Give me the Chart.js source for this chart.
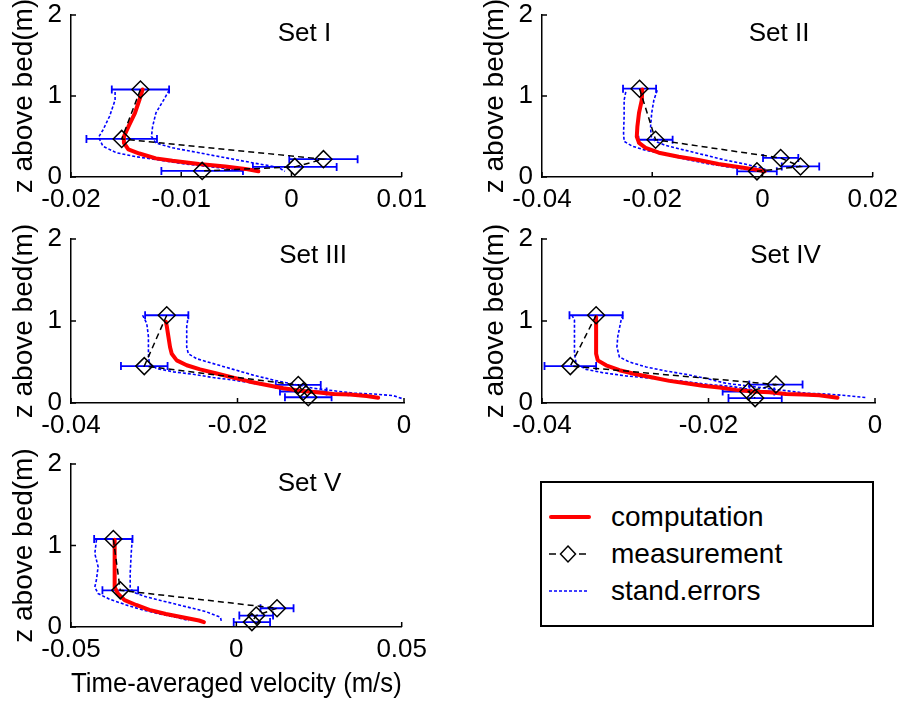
<!DOCTYPE html>
<html>
<head>
<meta charset="utf-8">
<script src="https://cdn.jsdelivr.net/npm/chart.js@4.4.0/dist/chart.umd.min.js"></script>
<style>
  body { margin: 0; background: #fff; width: 906px; height: 704px; position: relative; overflow: hidden;
         font-family: "Liberation Sans", Arial, sans-serif; }
  canvas { position: absolute; }
  #legend { position: absolute; left: 540px; top: 481px; width: 334px; height: 146px;
            border: 2px solid #000; box-sizing: border-box; background: #fff; }
  .row { position: absolute; left: 0; height: 30px; width: 100%; font-size: 28px; line-height: 30px; color: #000; }
  .row svg { position: absolute; left: 5px; top: 0; }
  .row span { position: absolute; left: 69px; top: 0; }
</style>
</head>
<body>
<canvas id="c1"></canvas>
<canvas id="c2"></canvas>
<canvas id="c3"></canvas>
<canvas id="c4"></canvas>
<canvas id="c5"></canvas>

<div id="legend">
  <div class="row" style="top:19px">
    <svg width="46" height="30"><line x1="4" y1="15" x2="42" y2="15" stroke="#ff0000" stroke-width="4" stroke-linecap="round"/></svg>
    <span>computation</span>
  </div>
  <div class="row" style="top:56px">
    <svg width="46" height="30">
      <line x1="2" y1="15" x2="9" y2="15" stroke="#000" stroke-width="1.5"/>
      <line x1="32" y1="15" x2="39" y2="15" stroke="#000" stroke-width="1.5"/>
      <path d="M21 7 L28.5 15 L21 23 L13.5 15 Z" fill="none" stroke="#000" stroke-width="1.5"/>
    </svg>
    <span>measurement</span>
  </div>
  <div class="row" style="top:93px">
    <svg width="46" height="30"><line x1="2" y1="15" x2="42" y2="15" stroke="#0000ff" stroke-width="1.6" stroke-dasharray="3,2"/></svg>
    <span>stand.errors</span>
  </div>
</div>

<script>
const zTicks = [0, 1, 2];
const setNames = ['Set I', 'Set II', 'Set III', 'Set IV', 'Set V'];

// Set I
const xTicks1 = [-0.02, -0.01, 0, 0.01];
const compV1 = [-0.0135, -0.0138, -0.0142, -0.0148, -0.0152, -0.0152, -0.0148, -0.0138, -0.0123, -0.0108, -0.0084, -0.0060, -0.0042, -0.0030];
const compZ1 = [1.08, 0.95, 0.79, 0.62, 0.50, 0.42, 0.34, 0.29, 0.23, 0.20, 0.16, 0.13, 0.10, 0.07];
const lowV1 = [-0.0160, -0.0160, -0.0165, -0.0171, -0.0175, -0.0171, -0.0159, -0.0141, -0.0120, -0.0096, -0.0069, -0.0045];
const lowZ1 = [1.05, 0.95, 0.75, 0.58, 0.49, 0.38, 0.30, 0.25, 0.21, 0.16, 0.12, 0.08];
const upV1 = [-0.0111, -0.0116, -0.0123, -0.0126, -0.0127, -0.0123, -0.0108, -0.0084, -0.0057, -0.0033, -0.0012, -0.0006];
const upZ1 = [1.07, 0.95, 0.79, 0.62, 0.50, 0.42, 0.36, 0.30, 0.23, 0.17, 0.12, 0.07];
const measV1 = [-0.0137, -0.0154, 0.0029, 0.0003, -0.0081];
const measZ1 = [1.08, 0.47, 0.22, 0.125, 0.075];
const measE1 = [0.0026, 0.0032, 0.0031, 0.0038, 0.0037];

// Set II
const xTicks2 = [-0.04, -0.02, 0, 0.02];
const compV2 = [-0.0218, -0.0219, -0.0224, -0.0227, -0.0228, -0.0224, -0.0212, -0.0188, -0.0152, -0.0116, -0.0080, -0.0050, -0.0020, 0.0004];
const compZ2 = [1.08, 0.95, 0.79, 0.62, 0.50, 0.42, 0.36, 0.30, 0.25, 0.21, 0.16, 0.13, 0.10, 0.07];
const lowV2 = [-0.0248, -0.0251, -0.0251, -0.0252, -0.0251, -0.0236, -0.0212, -0.0176, -0.0140, -0.0104, -0.0068, -0.0038];
const lowZ2 = [1.05, 0.95, 0.75, 0.54, 0.44, 0.38, 0.33, 0.28, 0.22, 0.17, 0.13, 0.10];
const upV2 = [-0.0191, -0.0197, -0.0201, -0.0203, -0.0202, -0.0194, -0.0176, -0.0140, -0.0104, -0.0068, -0.0032, -0.0002, 0.0010];
const upZ2 = [1.07, 0.95, 0.79, 0.62, 0.50, 0.44, 0.39, 0.33, 0.27, 0.21, 0.16, 0.11, 0.08];
const measV2 = [-0.0223, -0.0194, 0.0033, 0.0069, -0.0010];
const measZ2 = [1.09, 0.46, 0.235, 0.13, 0.07];
const measE2 = [0.0030, 0.0031, 0.0032, 0.0034, 0.0036];

// Set III
const xTicks3 = [-0.04, -0.02, 0];
const compV3 = [-0.0286, -0.0285, -0.0283, -0.0281, -0.0279, -0.0273, -0.0261, -0.0245, -0.0225, -0.0205, -0.0185, -0.0165, -0.0145, -0.0125, -0.0105, -0.0085, -0.0065, -0.0045, -0.0031];
const compZ3 = [0.99, 0.94, 0.81, 0.68, 0.60, 0.52, 0.46, 0.41, 0.36, 0.31, 0.26, 0.22, 0.18, 0.15, 0.13, 0.11, 0.105, 0.085, 0.065];
const lowV3 = [-0.0314, -0.0309, -0.0307, -0.0307, -0.0306, -0.0297, -0.0277, -0.0253, -0.0229, -0.0205, -0.0181, -0.0157, -0.0133, -0.0109, -0.0085, -0.0065];
const lowZ3 = [1.07, 0.97, 0.81, 0.60, 0.48, 0.42, 0.38, 0.35, 0.31, 0.28, 0.24, 0.20, 0.17, 0.14, 0.12, 0.09];
const upV3 = [-0.0259, -0.0261, -0.0261, -0.0259, -0.0249, -0.0229, -0.0205, -0.0181, -0.0157, -0.0133, -0.0109, -0.0085, -0.0061, -0.0037, -0.0013, -0.0001];
const upZ3 = [1.07, 0.93, 0.68, 0.60, 0.54, 0.48, 0.41, 0.34, 0.28, 0.23, 0.18, 0.15, 0.12, 0.11, 0.09, 0.05];
const measV3 = [-0.0285, -0.0312, -0.0127, -0.0121, -0.0115];
const measZ3 = [1.07, 0.45, 0.22, 0.14, 0.07];
const measE3 = [0.0026, 0.0028, 0.0027, 0.0028, 0.0028];

// Set IV
const xTicks4 = [-0.04, -0.02, 0];
const compV4 = [-0.0335, -0.0335, -0.0335, -0.0333, -0.0323, -0.0307, -0.0287, -0.0267, -0.0247, -0.0227, -0.0207, -0.0187, -0.0167, -0.0147, -0.0127, -0.0107, -0.0087, -0.0067, -0.0045];
const compZ4 = [1.05, 0.81, 0.60, 0.52, 0.46, 0.40, 0.35, 0.31, 0.27, 0.24, 0.21, 0.19, 0.16, 0.14, 0.13, 0.11, 0.105, 0.095, 0.065];
const lowV4 = [-0.0364, -0.0361, -0.0361, -0.0361, -0.0359, -0.0347, -0.0327, -0.0299, -0.0267, -0.0235, -0.0203, -0.0171, -0.0147, -0.0123, -0.0099, -0.0075];
const lowZ4 = [1.07, 1.01, 0.81, 0.60, 0.48, 0.41, 0.37, 0.33, 0.30, 0.27, 0.23, 0.20, 0.16, 0.13, 0.11, 0.09];
const upV4 = [-0.0303, -0.0305, -0.0309, -0.0310, -0.0307, -0.0295, -0.0275, -0.0251, -0.0227, -0.0203, -0.0179, -0.0155, -0.0131, -0.0107, -0.0083, -0.0059, -0.0034, -0.0010];
const upZ4 = [1.07, 1.01, 0.81, 0.68, 0.56, 0.50, 0.44, 0.39, 0.35, 0.30, 0.24, 0.21, 0.18, 0.15, 0.12, 0.11, 0.09, 0.065];
const measV4 = [-0.0335, -0.0366, -0.0119, -0.0152, -0.0144];
const measZ4 = [1.07, 0.45, 0.225, 0.14, 0.06];
const measE4 = [0.0032, 0.0031, 0.0032, 0.0031, 0.0032];

// Set V
const xTicks5 = [-0.05, 0, 0.05];
const compV5 = [-0.0368, -0.0368, -0.0368, -0.0368, -0.0358, -0.0338, -0.0303, -0.0263, -0.0213, -0.0163, -0.0113, -0.0098];
const compZ5 = [1.07, 0.86, 0.66, 0.49, 0.41, 0.33, 0.27, 0.21, 0.16, 0.12, 0.08, 0.06];
const lowV5 = [-0.0423, -0.0428, -0.0418, -0.0423, -0.0428, -0.0418, -0.0383, -0.0333, -0.0283, -0.0233, -0.0183, -0.0143];
const lowZ5 = [1.07, 0.90, 0.74, 0.58, 0.49, 0.41, 0.34, 0.27, 0.21, 0.16, 0.12, 0.08];
const upV5 = [-0.0315, -0.0318, -0.0321, -0.0321, -0.0313, -0.0273, -0.0213, -0.0153, -0.0093, -0.0048, -0.0045];
const upZ5 = [1.07, 0.90, 0.66, 0.49, 0.43, 0.37, 0.31, 0.25, 0.19, 0.12, 0.06];
const measV5 = [-0.0372, -0.0351, 0.0123, 0.0060, 0.0047];
const measZ5 = [1.08, 0.45, 0.23, 0.14, 0.06];
const measE5 = [0.0058, 0.0054, 0.0050, 0.0051, 0.0055];

Chart.defaults.font.family = '"Liberation Sans", Arial, sans-serif';
Chart.defaults.color = '#000';

const pts = (v, z) => v.map((x, i) => ({ x: x, y: z[i] }));

// horizontal error bars with end caps, drawn under the lines
const errorBars = {
  id: 'errorBars',
  beforeDatasetsDraw(chart) {
    const ds = chart.data.datasets.find(d => d.xErr);
    if (!ds) return;
    const xs = chart.scales.x, ys = chart.scales.y, ctx = chart.ctx;
    ctx.save();
    ctx.strokeStyle = '#0000ff';
    ctx.lineWidth = 1.8;
    ds.data.forEach((p, i) => {
      const x1 = xs.getPixelForValue(p.x - ds.xErr[i]);
      const x2 = xs.getPixelForValue(p.x + ds.xErr[i]);
      const y = ys.getPixelForValue(p.y);
      ctx.beginPath();
      ctx.moveTo(x1, y); ctx.lineTo(x2, y);
      ctx.moveTo(x1, y - 4); ctx.lineTo(x1, y + 4);
      ctx.moveTo(x2, y - 4); ctx.lineTo(x2, y + 4);
      ctx.stroke();
    });
    ctx.restore();
  }
};

// tick marks pointing into the plot area
const innerTicks = {
  id: 'innerTicks',
  afterDatasetsDraw(chart) {
    const { ctx, chartArea: a } = chart;
    const xs = chart.scales.x, ys = chart.scales.y;
    ctx.save();
    ctx.strokeStyle = '#000';
    ctx.lineWidth = 1.5;
    ctx.beginPath();
    xs.ticks.forEach(t => {
      const px = xs.getPixelForValue(t.value);
      ctx.moveTo(px, a.bottom); ctx.lineTo(px, a.bottom - 5);
    });
    ys.ticks.forEach(t => {
      const py = ys.getPixelForValue(t.value);
      ctx.moveTo(a.left, py); ctx.lineTo(a.left + 5, py);
    });
    ctx.stroke();
    ctx.restore();
  }
};

const setLabel = {
  id: 'setLabel',
  afterDraw(chart, args, opts) {
    const { ctx, chartArea: a } = chart;
    ctx.save();
    ctx.font = '26px "Liberation Sans", Arial, sans-serif';
    ctx.fillStyle = '#000';
    ctx.textAlign = 'left';
    ctx.textBaseline = 'middle';
    ctx.fillText(opts.text, a.left + 0.625 * a.width, a.top + opts.dy);
    ctx.restore();
  }
};

function panel(id, left, top, h, xTicks, meas, comp, low, up, name, dy, xTitle) {
  const hx = xTitle ? 75 : 45;
  const cv = document.getElementById(id);
  cv.width = 434;
  cv.height = 30 + h + hx;
  cv.style.left = (left - 71) + 'px';
  cv.style.top = (top - 30) + 'px';

  const dotted = {
    showLine: true,
    borderColor: '#0000ff',
    borderWidth: 1.6,
    borderDash: [3, 2],
    pointRadius: 0,
    clip: false
  };

  new Chart(cv, {
    type: 'scatter',
    data: {
      datasets: [
        {
          label: 'measurement',
          data: pts(meas[0], meas[1]),
          xErr: meas[2],
          showLine: true,
          borderColor: '#000',
          borderWidth: 1.5,
          borderDash: [6, 4],
          pointStyle: 'rectRot',
          pointRadius: 8.5,
          pointBorderWidth: 1.5,
          pointBorderColor: '#000',
          pointBackgroundColor: 'rgba(0,0,0,0)',
          clip: false
        },
        {
          label: 'computation',
          data: pts(comp[0], comp[1]),
          showLine: true,
          borderColor: '#ff0000',
          borderWidth: 4,
          borderJoinStyle: 'round',
          borderCapStyle: 'round',
          pointRadius: 0,
          clip: false
        },
        Object.assign({ label: 'stand.errors', data: pts(low[0], low[1]) }, dotted),
        Object.assign({ label: 'stand.errors', data: pts(up[0], up[1]) }, dotted)
      ]
    },
    options: {
      responsive: false,
      animation: false,
      events: [],
      layout: { padding: { top: 30, right: 30, left: 0, bottom: 0 } },
      plugins: {
        legend: { display: false },
        tooltip: { enabled: false },
        setLabel: { text: name, dy: dy }
      },
      scales: {
        x: {
          type: 'linear',
          min: xTicks[0],
          max: xTicks[xTicks.length - 1],
          afterBuildTicks: s => { s.ticks = xTicks.map(v => ({ value: v })); },
          afterFit: s => { s.height = hx; },
          grid: { display: false, drawTicks: false },
          border: { display: true, color: '#000', width: 1.5 },
          ticks: { font: { size: 26 }, padding: 7, autoSkip: false, maxRotation: 0, callback: v => String(v) },
          title: {
            display: !!xTitle,
            text: xTitle || '',
            font: { size: 28 },
            padding: { top: 0, bottom: 1 }
          }
        },
        y: {
          type: 'linear',
          min: 0,
          max: 2,
          afterBuildTicks: s => { s.ticks = zTicks.map(v => ({ value: v })); },
          afterFit: s => { s.width = 71; },
          grid: { display: false, drawTicks: false },
          border: { display: true, color: '#000', width: 1.5 },
          ticks: { font: { size: 26 }, padding: 9, callback: v => String(v) },
          title: {
            display: true,
            text: 'z above bed(m)',
            font: { size: 28 },
            padding: { top: 7, bottom: 4 }
          }
        }
      }
    },
    plugins: [errorBars, innerTicks, setLabel]
  });
}

panel('c1', 71, 15, 162, xTicks1, [measV1, measZ1, measE1], [compV1, compZ1], [lowV1, lowZ1], [upV1, upZ1], setNames[0], 19);
panel('c2', 542, 15, 162, xTicks2, [measV2, measZ2, measE2], [compV2, compZ2], [lowV2, lowZ2], [upV2, upZ2], setNames[1], 19);
panel('c3', 71, 239, 164, xTicks3, [measV3, measZ3, measE3], [compV3, compZ3], [lowV3, lowZ3], [upV3, upZ3], setNames[2], 17);
panel('c4', 542, 239, 164, xTicks4, [measV4, measZ4, measE4], [compV4, compZ4], [lowV4, lowZ4], [upV4, upZ4], setNames[3], 17);
panel('c5', 71, 464, 163, xTicks5, [measV5, measZ5, measE5], [compV5, compZ5], [lowV5, lowZ5], [upV5, upZ5], setNames[4], 20,
      'Time-averaged velocity (m/s)');
</script>
</body>
</html>
